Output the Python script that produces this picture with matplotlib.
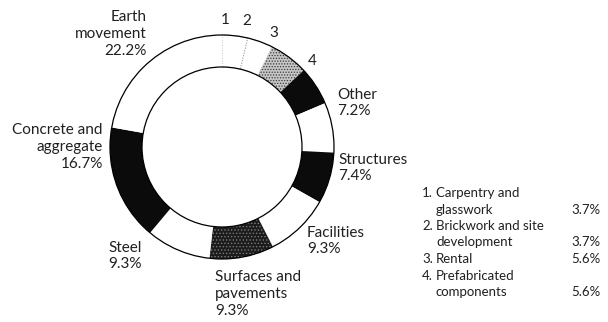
import matplotlib.pyplot as plt
from matplotlib.patches import Circle

# cost shares, clockwise from 12 o'clock
categories = ["Carpentry and\nglasswork", "Brickwork and site\ndevelopment", "Rental",
              "Prefabricated\ncomponents", "Other", "Structures", "Facilities",
              "Surfaces and\npavements", "Steel", "Concrete and\naggregate", "Earth\nmovement"]
shares = [3.7, 3.7, 5.6, 5.6, 7.2, 7.4, 9.3, 9.3, 9.3, 16.7, 22.2]

fills = ['white', 'white', '#c6c6c6', '#0b0b0b', 'white', '#0b0b0b', 'white',
         '#1c1c1c', 'white', '#0b0b0b', 'white']
hatches = [None, None, '......', None, None, None, None, '.....', None, None, None]
hatch_colors = ['#999999', '#999999', '#3a3a3a', 'none', 'none', 'none', 'none',
                '#7a7a7a', 'none', 'none', 'none']

W, H = 608, 322
cx, cy, R, r_in = 222, H - 147, 112, 80

plt.rcParams['font.family'] = ['Lato', 'DejaVu Sans']
plt.rcParams['hatch.linewidth'] = 0.6

fig = plt.figure(figsize=(W / 100, H / 100), dpi=100)
ax = fig.add_axes([0, 0, 1, 1])

wedges, _ = ax.pie(shares, startangle=90, counterclock=False, center=(cx, cy), radius=R,
                   colors=fills, wedgeprops=dict(width=R - r_in, linewidth=0))
for w, h, hc in zip(wedges, hatches, hatch_colors):
    w.set_edgecolor(hc)
    if h:
        w.set_hatch(h)
# small white slices only get a faint dotted divider
for w in wedges[:2]:
    w.set_linestyle(':')
    w.set_linewidth(0.7)

ax.add_patch(Circle((cx, cy), R, fill=False, lw=0.9, ec='black'))
ax.add_patch(Circle((cx, cy), r_in, fill=False, lw=0.9, ec='black'))

ax.set_xlim(0, W)
ax.set_ylim(0, H)
ax.set_aspect('equal')
ax.axis('off')

ink = '#202020'
txt = dict(fontsize=11, color=ink, linespacing=1.25)

# outer labels: (index, x, y, alignment)
label_pos = [(10, 147, 34, 'right'), (9, 103, 147, 'right'), (4, 337, 103, 'left'),
             (5, 338, 168, 'left'), (6, 307, 241, 'left'), (8, 108, 256, 'left'),
             (7, 215, 294, 'left')]
for i, x, y, ha in label_pos:
    ax.text(x, H - y, f"{categories[i]}\n{shares[i]:.1f}%", ha=ha, va='center', **txt)

# numbered markers for the narrow slices
num_pos = [(225, 20), (247, 21), (274, 33), (312, 61)]
for k, (x, y) in enumerate(num_pos):
    ax.text(x, H - y, str(k + 1), ha='center', va='center', **txt)

# key for the numbered slices
line = 0
for k in range(4):
    parts = categories[k].split('\n')
    for j, part in enumerate(parts):
        y = H - (193 + 16.5 * line)
        if j == 0:
            ax.text(422, y, f"{k + 1}.", ha='left', va='center', fontsize=9.5, color=ink)
        ax.text(436, y, part, ha='left', va='center', fontsize=9.5, color=ink)
        if j == len(parts) - 1:
            ax.text(601, y, f"{shares[k]:.1f}%", ha='right', va='center',
                    fontsize=9.5, color=ink)
        line += 1

fig.savefig('out.png', dpi=100)
